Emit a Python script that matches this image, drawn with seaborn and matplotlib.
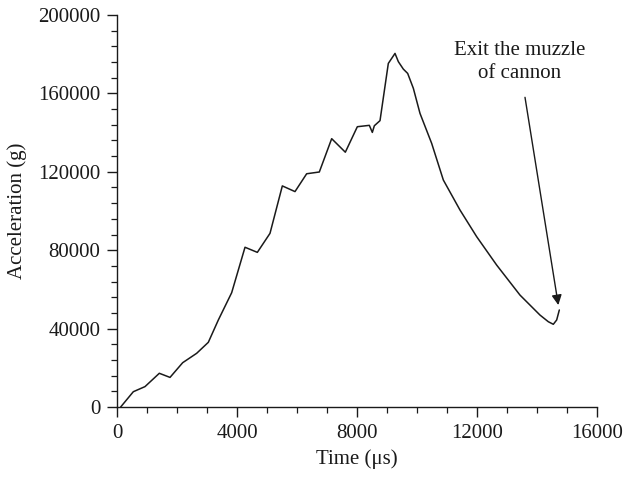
import matplotlib
matplotlib.use("Agg")
import matplotlib.pyplot as plt
from matplotlib.ticker import MultipleLocator
import seaborn as sns
import pandas as pd

# Projectile acceleration history inside the barrel
time_us = [122, 544, 933, 1411, 1767, 2189, 2656, 3044, 3378, 3822,
           4267, 4678, 5100, 5511, 5933, 6322, 6744, 7156, 7611, 8011,
           8411, 8511, 8578, 8767, 9044, 9267, 9378, 9544, 9689, 9878,
           10100, 10489, 10878, 11433, 11989, 12656, 13433, 14100, 14378,
           14544, 14656, 14744]
accel_g = [0, 7800, 10400, 17200, 15100, 22600, 27400, 33000, 44400, 58300,
           81500, 78900, 88600, 112800, 109900, 119000, 119900, 136900, 130000, 143000,
           143700, 140100, 143500, 146100, 175300, 180400, 176200, 172400, 170200, 162600,
           149800, 134500, 115800, 100500, 86900, 72400, 57100, 46900, 43500,
           42200, 44400, 49500]

note_text = "Exit the muzzle\nof cannon"
note_pos = (13433, 176000)
arrow_start = (13600, 158000)
arrow_end = (14711, 52000)

df = pd.DataFrame({"Time": time_us, "Acceleration": accel_g})

sns.set_theme(style="ticks")
plt.rcParams["font.family"] = ["Liberation Serif", "DejaVu Serif"]
plt.rcParams["font.size"] = 15

fig = plt.figure(figsize=(6.31, 4.8), dpi=100)
ax = fig.add_axes([117 / 631, 1 - 407 / 480, 480 / 631, 392 / 480])

sns.lineplot(data=df, x="Time", y="Acceleration", ax=ax, color="#1a1a1a",
             linewidth=1.1, sort=False)

ax.set_xlim(0, 16000)
ax.set_ylim(0, 200000)
ax.xaxis.set_major_locator(MultipleLocator(4000))
ax.xaxis.set_minor_locator(MultipleLocator(1000))
ax.yaxis.set_major_locator(MultipleLocator(40000))
ax.yaxis.set_minor_locator(MultipleLocator(8000))
ax.tick_params(axis="both", which="major", direction="out", length=7, width=1,
               labelsize=15, colors="#1a1a1a", pad=5)
ax.tick_params(axis="both", which="minor", direction="out", length=4, width=0.9,
               colors="#1a1a1a")

for side in ("top", "right"):
    ax.spines[side].set_visible(False)
for side in ("left", "bottom"):
    ax.spines[side].set_color("#1a1a1a")
    ax.spines[side].set_linewidth(1)

ax.set_xlabel("Time (μs)", fontsize=15, color="#1a1a1a", labelpad=5)
ax.set_ylabel("Acceleration (g)", fontsize=15, color="#1a1a1a", labelpad=8)

ax.text(*note_pos, note_text, ha="center", va="center", fontsize=15,
        color="#1a1a1a", linespacing=1.3)
ax.annotate("", xy=arrow_end, xytext=arrow_start,
            arrowprops=dict(arrowstyle="-|>", color="#1a1a1a", lw=1,
                            mutation_scale=15, shrinkA=0, shrinkB=0))

fig.savefig("out.png", dpi=100)
